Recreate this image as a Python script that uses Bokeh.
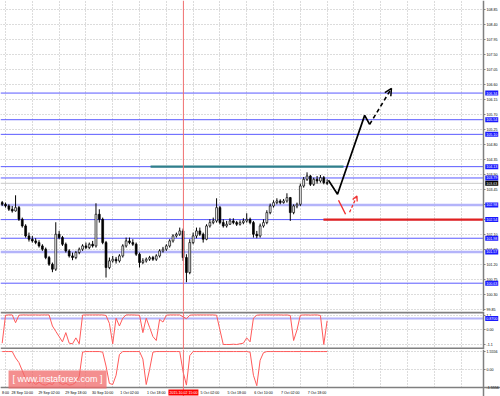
from bokeh.plotting import figure
from bokeh.layouts import column
from bokeh.models import (Range1d, FixedTicker, NumeralTickFormatter, Label, Arrow,
                          OpenHead, Grid, Span, BoxAnnotation, ColumnDataSource)
from bokeh.embed import file_html
from bokeh.resources import INLINE

# ---------------- data ----------------
bars = list(range(-1, 97))
opens = [103.05, 103.00, 102.95, 102.85, 102.80, 102.90, 102.55, 102.35, 102.05, 101.95,
         101.90, 101.85, 101.75, 101.65, 101.40, 101.20, 101.05, 102.10, 102.00, 101.80,
         101.60, 101.45, 101.40, 101.55, 101.65, 101.75, 101.70, 101.80, 101.75, 102.70,
         102.55, 101.85, 101.10, 101.30, 101.35, 101.30, 101.45, 101.75, 101.90, 101.85,
         101.80, 101.50, 101.25, 101.30, 101.35, 101.40, 101.35, 101.45, 101.60, 101.65,
         101.75, 101.90, 102.05, 102.10, 102.20, 101.40, 100.95, 101.85, 102.05, 102.20,
         102.10, 101.95, 102.35, 102.45, 102.50, 102.90, 102.45, 102.35, 102.40, 102.50,
         102.45, 102.40, 102.45, 102.50, 102.55, 102.45, 102.10, 102.05, 102.35, 102.45,
         102.75, 102.95, 103.05, 103.10, 103.05, 103.10, 103.20, 102.75, 102.95, 103.00,
         103.55, 103.75, 103.85, 103.60, 103.75, 103.70, 103.80, 103.65]
highs = [103.10, 103.05, 103.00, 102.95, 103.27, 102.95, 102.60, 102.40, 102.15, 102.05,
         101.98, 101.92, 101.80, 101.70, 101.45, 101.25, 102.46, 102.20, 102.05, 101.85,
         101.65, 101.55, 101.60, 101.70, 101.80, 101.85, 101.85, 101.90, 103.03, 102.85,
         102.60, 101.90, 101.40, 101.45, 101.42, 101.50, 101.80, 102.00, 102.00, 101.95,
         101.85, 101.55, 101.38, 101.40, 101.45, 101.45, 101.50, 101.65, 101.72, 101.80,
         101.95, 102.10, 102.15, 102.30, 102.27, 101.50, 101.95, 102.15, 102.30, 102.30,
         102.15, 102.40, 102.55, 102.60, 103.18, 102.95, 102.55, 102.50, 102.58, 102.58,
         102.50, 102.52, 102.58, 102.73, 102.60, 102.50, 102.20, 102.42, 102.55, 102.82,
         103.02, 103.12, 103.18, 103.15, 103.16, 103.33, 103.22, 103.00, 103.05, 103.62,
         103.82, 103.96, 103.88, 103.80, 103.85, 103.88, 103.85, 103.75]
lows = [102.95, 102.90, 102.80, 102.75, 102.78, 102.50, 102.30, 102.00, 101.88, 101.85,
        101.80, 101.70, 101.60, 101.35, 101.15, 100.96, 101.00, 101.95, 101.75, 101.55,
        101.40, 101.32, 101.35, 101.50, 101.60, 101.65, 101.65, 101.70, 101.70, 102.45,
        101.80, 100.80, 101.05, 101.25, 101.22, 101.25, 101.40, 101.70, 101.80, 101.75,
        101.45, 101.10, 101.20, 101.25, 101.30, 101.30, 101.30, 101.40, 101.55, 101.60,
        101.70, 101.85, 102.00, 102.05, 101.30, 100.66, 100.90, 101.80, 101.98, 102.05,
        101.85, 101.92, 102.30, 102.40, 102.45, 102.40, 102.30, 102.30, 102.38, 102.40,
        102.35, 102.36, 102.40, 102.45, 102.40, 102.00, 101.98, 102.00, 102.30, 102.40,
        102.70, 102.90, 103.00, 103.00, 103.02, 103.05, 102.50, 102.70, 102.88, 102.95,
        103.50, 103.70, 103.55, 103.55, 103.62, 103.65, 103.60, 103.58]
closes = [103.00, 102.95, 102.85, 102.80, 102.90, 102.55, 102.35, 102.05, 101.95, 101.90,
          101.85, 101.75, 101.65, 101.40, 101.20, 101.05, 102.10, 102.00, 101.80, 101.60,
          101.45, 101.40, 101.55, 101.65, 101.75, 101.70, 101.80, 101.75, 102.70, 102.55,
          101.85, 101.10, 101.30, 101.35, 101.30, 101.45, 101.75, 101.90, 101.85, 101.80,
          101.50, 101.25, 101.30, 101.35, 101.40, 101.35, 101.45, 101.60, 101.65, 101.75,
          101.90, 102.05, 102.10, 102.20, 101.40, 100.95, 101.85, 102.05, 102.20, 102.10,
          101.95, 102.35, 102.45, 102.50, 102.90, 102.45, 102.35, 102.40, 102.50, 102.45,
          102.40, 102.45, 102.50, 102.55, 102.45, 102.10, 102.05, 102.35, 102.45, 102.75,
          102.95, 103.05, 103.10, 103.05, 103.10, 103.20, 102.75, 102.95, 103.00, 103.55,
          103.75, 103.85, 103.60, 103.75, 103.70, 103.80, 103.65, 103.63]

price_ticks = [99.85, 100.30, 100.75, 101.20, 101.65, 102.10, 102.55, 103.00, 103.45,
               103.90, 104.35, 104.80, 105.25, 105.70, 106.15, 106.60, 107.05, 107.50,
               107.95, 108.40, 108.85]
level_lines = [106.34, 105.54, 105.10, 104.13, 103.79, 102.54, 101.98, 100.63]
zone_lines = [102.98, 101.57]
current_price = 103.63

resistance = 104.13
resistance_from, resistance_to = 43.3, 100.9
support = 102.54
support_from = 94.9

path_x = [96.4, 99.1, 107.2, 108.7]
path_y = [103.72, 103.30, 105.67, 105.40]
path_next = (108.7, 105.40, 115.2, 106.48)
alt_x = [99.4, 101.5]
alt_y = [103.12, 102.70]
alt_next = (102.7, 102.76, 104.9, 103.25)

ind1 = [-1.0, 1.12, 1.14, 1.14, 0.55, 1.12, 1.14, 1.14, 1.13, 1.14,
        1.14, 1.13, 1.14, 1.14, 1.14, 0.3, -0.1, -0.5, -0.9, -0.2,
        -1.0, -1.05, -0.6, -1.05, 1.13, 1.14, 1.14, 1.14, 1.14, 1.14,
        1.14, 1.1, 0.5, -1.05, 0.9, 0.3, 0.9, 1.14, 1.14, 1.14,
        1.13, 1.12, -0.2, 0.9, 0.2, -0.5, -0.8, 0.8, 0.6, 1.12,
        1.14, 1.14, 1.14, 1.14, 1.0, 0.85, 1.12, 1.14, 1.14, 1.14,
        1.14, 1.14, 1.14, 1.14, 1.12, 0.0, -1.1, -1.1, -1.1, -1.08,
        -1.1, -1.05, -1.0, -0.6, -0.9, 0.9, 1.12, 1.14, 1.14, 1.14,
        1.14, 1.14, 1.14, 1.14, 1.13, 1.14, 1.1, -0.8, 0.0, 1.12,
        1.14, 1.14, 1.13, 1.14, 1.14, 1.1, -1.1, 0.7]
ind1_ticks = [-1.1, 0.0, 1.1]
ind1_level = 0.87
ind2 = [1.55, 1.55, 1.55, 1.55, 1.0, 0.6, -0.1, -0.8, -1.2, -1.0,
        -1.3, -1.1, -1.3, -1.35, -1.2, -1.3, -0.9, -1.1, -1.3, -1.2,
        -1.35, -1.3, -1.1, -0.6, 1.5, 1.55, 1.55, 1.55, 1.55, 1.55,
        1.5, 0.3, -1.2, -1.3, -0.5, 1.3, 1.55, 1.55, 1.55, 1.55,
        1.55, 1.55, 0.9, -1.3, 0.0, 1.5, 1.55, 1.55, 1.55, 1.55,
        1.55, 1.55, 1.55, 1.55, -0.2, -1.35, 1.2, 1.55, 1.55, 1.55,
        1.55, 1.55, 1.55, 1.55, 1.55, 1.55, 1.55, 1.55, 1.55, 1.55,
        1.55, 1.55, 1.55, 1.55, 1.5, -0.5, -1.4, 0.8, 1.45, 1.55,
        1.55, 1.55, 1.55, 1.55, 1.55, 1.55, 1.55, 1.55, 1.55, 1.55,
        1.55, 1.55, 1.55, 1.55, 1.55, 1.55, 1.55, 1.55]
ind2_ticks = [-1.5556, 0.0, 1.5556]

date_ticks = [0, 5, 13, 21, 29, 37, 45, 61, 69, 77, 85, 93]
date_labels = ["8:00", "28 Sep 10:00", "29 Sep 02:00", "29 Sep 18:00", "30 Sep 10:00",
               "1 Oct 02:00", "1 Oct 18:00", "5 Oct 02:00", "5 Oct 18:00",
               "6 Oct 10:00", "7 Oct 02:00", "7 Oct 18:00"]
grid_x = list(range(0, 143, 8))
cursor_bar = 53.1
cursor_label = "2015.10.02 15:00"
watermark = "[ www.instaforex.com ]"

# ---------------- styling ----------------
FONT = "Liberation Sans"
FS = "3.6px"
GRID = "#b9b9b9"
AXIS = "#7f7f7f"
LEVEL = "#5a5aff"
ZONE = "#b4b4fa"
X0, AXIS_X, X1 = -1.5, 142.7, 147.75
LABEL_X = 143.2
xr = Range1d(X0, X1)


def make_fig(height, y_range, yticks, with_x_axis=False):
    p = figure(width=500, height=height, x_range=xr, y_range=y_range,
               output_backend="svg", toolbar_location=None,
               x_axis_location="below" if with_x_axis else None,
               y_axis_location="right",
               min_border_left=0, min_border_right=0, min_border_top=0,
               min_border_bottom=0,
               background_fill_color="white", border_fill_color="white",
               outline_line_color=None)
    p.grid.visible = False
    p.add_layout(Grid(dimension=0, ticker=FixedTicker(ticks=grid_x),
                      grid_line_color=GRID, grid_line_dash="1 2"))
    p.add_layout(Grid(dimension=1, ticker=FixedTicker(ticks=yticks),
                      grid_line_color=GRID, grid_line_dash="1 2"))
    # blank label column right of the axis
    p.add_layout(BoxAnnotation(left=AXIS_X, fill_color="white", fill_alpha=1,
                               line_color=None, level="underlay"))
    ax = p.yaxis[0]
    ax.fixed_location = AXIS_X
    ax.ticker = FixedTicker(ticks=yticks)
    ax.major_label_text_font_size = FS
    ax.major_label_text_font = FONT
    ax.major_label_text_color = "black"
    ax.major_tick_out = 2
    ax.major_tick_in = 0
    ax.minor_tick_out = 0
    ax.minor_tick_in = 0
    ax.major_label_standoff = 1
    ax.axis_line_color = AXIS
    ax.axis_line_width = 1.5
    ax.major_tick_line_color = AXIS
    p.add_layout(Span(location=cursor_bar, dimension="height",
                      line_color="#f07070", line_width=1))
    return p


def hlines(p, ys, color, width):
    p.segment(x0=[X0] * len(ys), y0=ys, x1=[AXIS_X] * len(ys), y1=ys,
              line_color=color, line_width=width)


def box_label(p, y, text, bg):
    p.add_layout(Label(x=LABEL_X, y=y, text=text, text_font=FONT, text_font_size=FS,
                       text_color="white", text_baseline="middle", text_align="left",
                       background_fill_color=bg, padding=1))


# ---------------- main price panel ----------------
p1 = make_fig(311, Range1d(99.78, 109.12), price_ticks)
p1.yaxis[0].formatter = NumeralTickFormatter(format="0.00")

hlines(p1, level_lines, LEVEL, 1)
hlines(p1, zone_lines, ZONE, 2.5)
hlines(p1, [current_price], "#c8c8c8", 1)

body_top = [max(o, c) for o, c in zip(opens, closes)]
body_bot = [min(o, c) for o, c in zip(opens, closes)]
fills = ["white" if c >= o else "black" for o, c in zip(opens, closes)]
src = ColumnDataSource(dict(x=bars, h=highs, l=lows, t=body_top, b=body_bot, f=fills))
p1.segment(x0="x", y0="h", x1="x", y1="l", source=src, line_color="black", line_width=1)
p1.vbar(x="x", width=0.55, top="t", bottom="b", source=src, fill_color="f",
        line_color="black", line_width=0.7)

p1.segment(x0=[resistance_from], y0=[resistance], x1=[resistance_to], y1=[resistance],
           line_color="#2f7f8a", line_width=2.2)
p1.segment(x0=[support_from], y0=[support], x1=[AXIS_X], y1=[support],
           line_color="#e02020", line_width=2.2)

p1.line(path_x, path_y, line_color="black", line_width=1.7)
p1.add_layout(Arrow(end=OpenHead(size=7, line_color="black", line_width=1.5),
                    x_start=path_next[0], y_start=path_next[1],
                    x_end=path_next[2], y_end=path_next[3],
                    line_color="black", line_width=1.6, line_dash="4 3"))
p1.line(alt_x, alt_y, line_color="#f03030", line_width=1.4)
p1.add_layout(Arrow(end=OpenHead(size=5, line_color="#f03030", line_width=1.3),
                    x_start=alt_next[0], y_start=alt_next[1],
                    x_end=alt_next[2], y_end=alt_next[3],
                    line_color="#f03030", line_width=1.3, line_dash="3 2"))

for lv in level_lines + zone_lines:
    box_label(p1, lv, f"{lv:.2f}", "#1a1aff")
box_label(p1, current_price, f"{current_price:.2f}", "black")

# ---------------- indicator panel 1 ----------------
p2 = make_fig(38, Range1d(-1.48, 1.40), ind1_ticks)
p2.yaxis[0].major_label_overrides = {1.1: "1.1", 0.0: "0.00", -1.1: "-1.1"}
hlines(p2, [ind1_level], ZONE, 2)
p2.line(bars, ind1, line_color="#ff5a5a", line_width=1)
hlines(p2, [1.328, -1.404], "#808080", 2)
box_label(p2, ind1_level, "0.8700", "#1a1aff")

# ---------------- indicator panel 2 ----------------
p3 = make_fig(47, Range1d(-2.334, 1.728), ind2_ticks, with_x_axis=True)
p3.add_layout(BoxAnnotation(top=-1.56, fill_color="white", fill_alpha=1,
                            line_color=None, level="underlay"))
p3.yaxis[0].major_label_overrides = {1.5556: "1.5556", 0.0: "0.00", -1.5556: "-1.5556"}
p3.line(bars, ind2, line_color="#ff5a5a", line_width=1)
xa = p3.xaxis[0]
xa.fixed_location = -1.56
xa.ticker = FixedTicker(ticks=date_ticks)
xa.major_label_overrides = dict(zip(date_ticks, date_labels))
xa.major_label_text_font_size = FS
xa.major_label_text_font = FONT
xa.major_label_text_color = "black"
xa.major_tick_out = 0
xa.major_tick_in = 0
xa.minor_tick_out = 0
xa.minor_tick_in = 0
xa.major_label_standoff = 3
xa.axis_line_color = AXIS
xa.axis_line_width = 1.5

p3.add_layout(Label(x=0.9, y=-1.64, text=watermark, text_font=FONT, text_font_size="9px",
                    text_color="white", text_baseline="bottom", text_align="left",
                    background_fill_color="#f06a6a", background_fill_alpha=0.75,
                    padding=4))
p3.add_layout(Label(x=cursor_bar, y=-1.99, text=cursor_label, text_font=FONT,
                    text_font_size=FS, text_color="white", text_baseline="middle",
                    text_align="center", background_fill_color="#ff0000", padding=1))

layout = column(p1, p2, p3)
open("out.html", "w").write(file_html(layout, INLINE))
